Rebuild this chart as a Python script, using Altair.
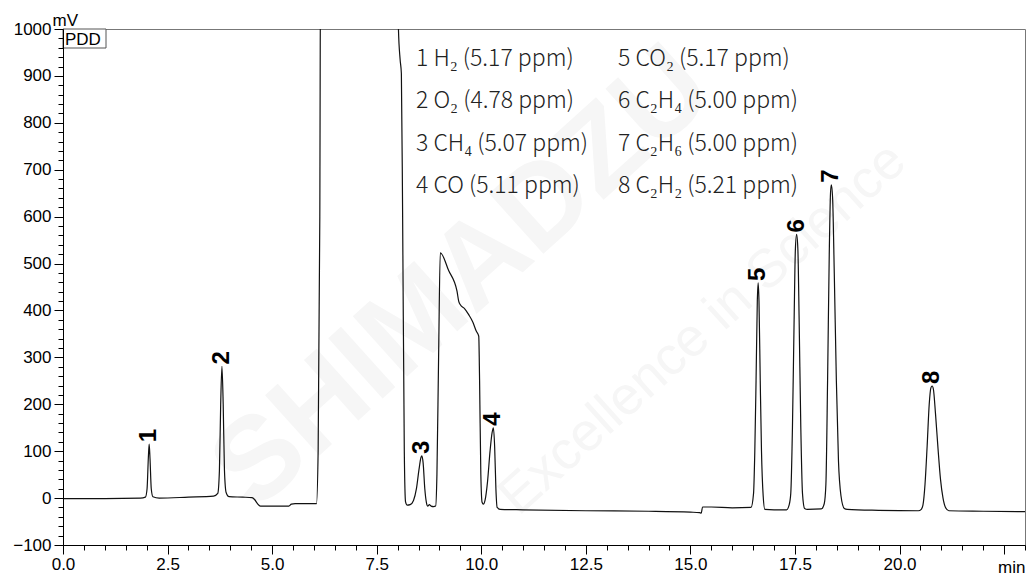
import altair as alt
import pandas as pd

# ---- chromatogram trace ----
trace_time = [0.0, 1.0, 1.85, 1.97, 2.01, 2.04, 2.06, 2.08, 2.11, 2.15, 2.3, 3.0, 3.6,
              3.70, 3.74, 3.77, 3.80, 3.83, 3.86, 3.90, 3.97, 4.3, 4.52, 4.58, 4.65, 4.72,
              5.0, 5.40, 5.46, 5.55, 6.06, 6.10, 6.14, 6.16, 7.98, 8.02, 8.06, 8.09, 8.12,
              8.16, 8.19, 8.23, 8.30, 8.38, 8.45, 8.51, 8.56, 8.58, 8.61, 8.65, 8.69, 8.72,
              8.76, 8.80, 8.86, 8.91, 8.94, 8.98, 9.02, 9.22, 9.42, 9.46, 9.50, 9.60, 9.70,
              9.80, 9.88, 9.94, 9.96, 9.99, 10.02, 10.05, 10.09, 10.15, 10.21, 10.26, 10.29,
              10.32, 10.35, 10.38, 10.45, 11.0, 12.5, 14.0, 15.0, 15.22, 15.26, 15.29, 15.5,
              16.0, 16.45, 16.51, 16.54, 16.57, 16.60, 16.62, 16.64, 16.67, 16.70, 16.74,
              16.78, 17.0, 17.30, 17.36, 17.40, 17.44, 17.48, 17.51, 17.54, 17.57, 17.60,
              17.64, 17.68, 17.73, 17.80, 18.13, 18.20, 18.24, 18.28, 18.32, 18.35, 18.37,
              18.40, 18.44, 18.49, 18.54, 18.60, 18.68, 18.75, 19.5, 20.45, 20.52, 20.56,
              20.61, 20.66, 20.71, 20.75, 20.78, 20.81, 20.86, 20.92, 20.98, 21.04, 21.10,
              21.18, 22.0, 23.0]
trace_mv = [-1, -1, 0, 2, 20, 85, 115, 85, 20, 3, 0, 2, 4,
            10, 60, 200, 281, 200, 60, 12, 3, 2, 1, -3, -12, -17,
            -17, -17, -13, -12, -12, 100, 600, 1200, 1200, 1000, 935, 905, 600,
            100, -8, -15, -14, -5, 20, 60, 87, 90, 75, 20, -10, -17,
            -14, -17, -18, -17, 50, 300, 523, 485, 441, 420, 412, 404, 391,
            375, 356, 345, 250, 50, -9, -13, -5, 35, 100, 140, 150,
            110, 20, -20, -24, -25, -27, -28, -30, -31, -32, -19, -19,
            -21, -20, 10, 100, 250, 420, 459, 420, 250, 100, 5,
            -24, -25, -25, -15, 10, 150, 380, 530, 562, 530, 380,
            150, 10, -22, -24, -23, -12, 30, 250, 520, 650, 668,
            640, 480, 250, 80, 5, -22, -24, -26, -27, -24, -15,
            30, 110, 200, 235, 239, 232, 180, 106, 40, 0, -20,
            -27, -28, -29]

peak_ids = ["1", "2", "3", "4", "5", "6", "7", "8"]
peak_time = [2.06, 3.80, 8.58, 10.29, 16.62, 17.54, 18.37, 20.78]
peak_height = [115, 281, 90, 150, 459, 562, 668, 239]

legend_left = ["1 H\u2082 (5.17 ppm)", "2 O\u2082 (4.78 ppm)",
               "3 CH\u2084 (5.07 ppm)", "4 CO (5.11 ppm)"]
legend_right = ["5 CO\u2082 (5.17 ppm)", "6 C\u2082H\u2084 (5.00 ppm)",
                "7 C\u2082H\u2086 (5.00 ppm)", "8 C\u2082H\u2082 (5.21 ppm)"]

x_major_vals = [0, 2.5, 5, 7.5, 10, 12.5, 15, 17.5, 20, 22.5]
x_minor_vals = [i * 0.5 for i in range(47) if i % 5 != 0]
y_major_vals = list(range(-100, 1001, 100))
y_minor_vals = [v for v in range(-100, 1001, 20) if v % 100 != 0]

trace = pd.DataFrame({"t": trace_time, "mv": trace_mv})
peaks = pd.DataFrame({"id": peak_ids, "t": peak_time, "h": peak_height})

W, H = 962, 516
FONT = "Liberation Sans"
xscale = alt.Scale(domain=[0, 23], nice=False, zero=False)
yscale = alt.Scale(domain=[-100, 1000], nice=False, zero=False)

major_x = alt.Axis(values=x_major_vals, orient="bottom", title="min",
                   labelExpr="datum.value > 21 ? '' : format(datum.value, '.1f')",
                   tickSize=9, tickColor="black", domainColor="black",
                   labelColor="black", labelFont=FONT, labelFontSize=17,
                   labelPadding=2, labelFlush=False, labelOverlap=False, grid=False,
                   titleFont=FONT, titleFontSize=17, titleFontWeight="normal",
                   titleColor="black", titleX=W, titleY=27, titleAlign="right",
                   titleBaseline="alphabetic", titleAngle=0, zindex=2)
major_y = alt.Axis(values=y_major_vals, orient="left", title="mV", format="d",
                   tickSize=9, tickColor="black", domainColor="black",
                   labelColor="black", labelFont=FONT, labelFontSize=17,
                   labelPadding=3, labelFlush=False, labelOverlap=False, grid=False,
                   titleFont=FONT, titleFontSize=17, titleFontWeight="normal",
                   titleColor="black", titleX=-11, titleY=-4, titleAlign="left",
                   titleBaseline="alphabetic", titleAngle=0, zindex=2)
minor_x = alt.Axis(values=x_minor_vals, orient="bottom", labels=False, tickSize=5,
                   tickColor="black", domain=False, grid=False, title=None, zindex=2)
minor_y = alt.Axis(values=y_minor_vals, orient="left", labels=False, tickSize=5,
                   tickColor="black", domain=False, grid=False, title=None, zindex=2)

one = alt.Data(values=[{}])

wm1 = alt.Chart(one).mark_text(text="SHIMADZU", font=FONT, fontWeight="bold",
                               fontSize=118, color="#f6f6f6", angle=318,
                               align="center", baseline="middle").encode(
    x=alt.value(400), y=alt.value(250))
wm2 = alt.Chart(one).mark_text(text="Excellence in Science", font=FONT,
                               fontSize=54, color="#f6f6f6", angle=318,
                               align="center", baseline="middle").encode(
    x=alt.value(640), y=alt.value(300))

line = alt.Chart(trace).mark_line(clip=True, color="#111", strokeWidth=1.2,
                                  interpolate="monotone").encode(
    x=alt.X("t:Q", scale=xscale, axis=major_x),
    y=alt.Y("mv:Q", scale=yscale, axis=major_y))
minor = alt.Chart(trace).mark_point(opacity=0).encode(
    x=alt.X("t:Q", scale=xscale, axis=minor_x),
    y=alt.Y("mv:Q", scale=yscale, axis=minor_y))

labels = alt.Chart(peaks).transform_calculate(ly="datum.h + 4").mark_text(
    angle=270, align="left", baseline="middle", font=FONT, fontWeight="bold",
    fontSize=24, color="black").encode(
    x=alt.X("t:Q", scale=xscale, axis=None),
    y=alt.Y("ly:Q", scale=yscale, axis=None),
    text="id:N")

pdd_box = alt.Chart(one).mark_rect(fill="white", stroke="#555", strokeWidth=1).encode(
    x=alt.value(0), x2=alt.value(43), y=alt.value(0), y2=alt.value(19))
pdd_text = alt.Chart(one).mark_text(text="PDD", font=FONT, fontSize=17, color="black",
                                    align="left", baseline="alphabetic").encode(
    x=alt.value(2), y=alt.value(15.5))

legend_layers = []
for col_x, items in ((353, legend_left), (555, legend_right)):
    for i, txt in enumerate(items):
        legend_layers.append(
            alt.Chart(one).mark_text(text=txt, font="Noto Sans CJK JP", fontWeight=300,
                                     fontSize=23, color="#222", align="left",
                                     baseline="alphabetic").encode(
                x=alt.value(col_x), y=alt.value(37 + 42.3 * i)))

chart = alt.layer(wm1, wm2, line, minor, labels, pdd_box, pdd_text, *legend_layers).resolve_axis(
    x="independent", y="independent").properties(
    width=W, height=H,
    padding={"left": 63, "top": 29, "right": 2, "bottom": 31},
    autosize=alt.AutoSizeParams(type="none"),
    background="white").configure_view(stroke="#777", strokeWidth=1)

chart.save("out.html", embed_options={"renderer": "svg", "actions": False})
